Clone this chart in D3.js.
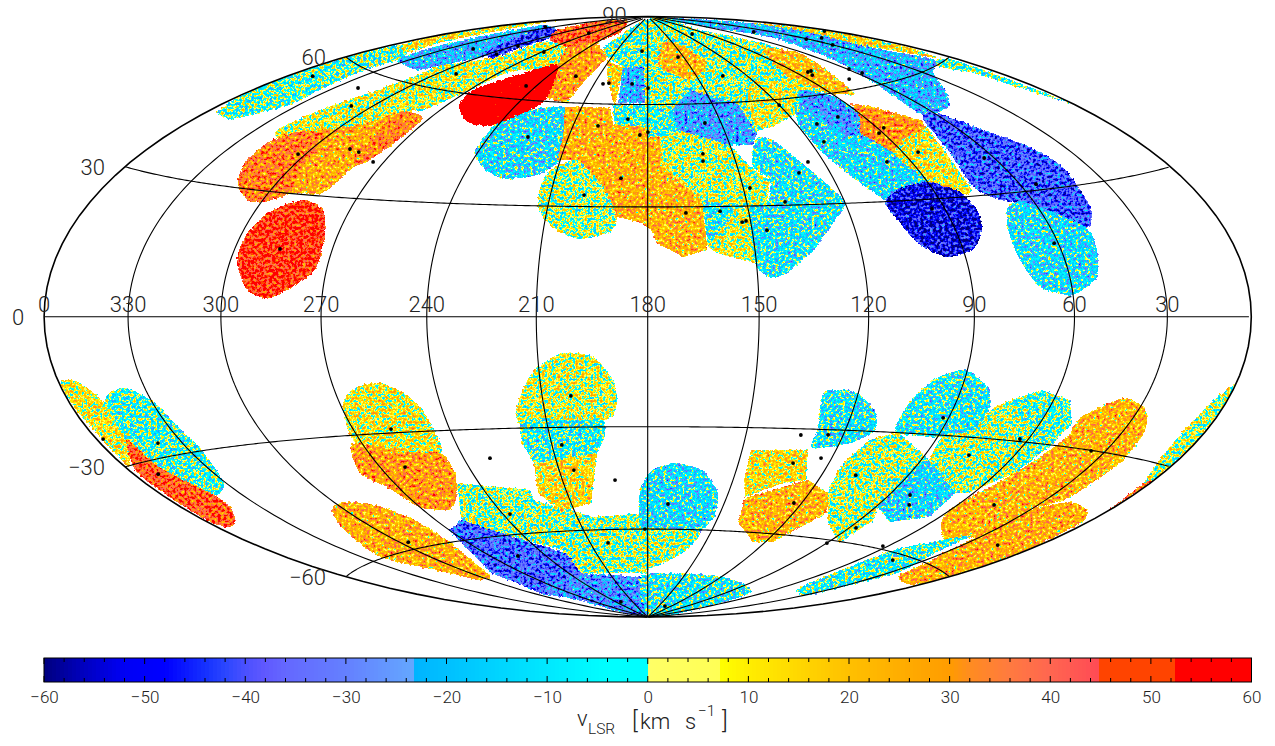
<!DOCTYPE html><html><head><meta charset="utf-8"><script src="https://cdn.jsdelivr.net/npm/d3@7"></script>
<style>html,body{margin:0;background:#fff}svg{display:block}text{font-family:Roboto,"Liberation Sans",sans-serif;font-weight:300;fill:#222}</style></head><body>
<svg id="c" width="1275" height="746"></svg>
<script>
// Galactic longitude labels and latitude labels
const lonLabels=[0,330,300,270,240,210,180,150,120,90,60,30];
const latLines=[-60,-30,0,30,60];
const latLabels=[90,60,30,0,-30,-60];
const meridians=[30,60,90,120,150,180,210,240,270,300,330];
const cbarTicks=[-60,-50,-40,-30,-20,-10,0,10,20,30,40,50,60];
const cbarMinor=d3.range(-60,61,2);
// colour bar stops: value -> colour
const cmapValues=[-60,-56,-52,-48,-44,-42,-40,-38,-36,-30,-23.1,-23.05,-16,-8,-4,0,0.01,7.3,7.31,10,20,30,32,36,40,44.9,45,52.2,52.21,60];
const cmapColours=["#00007f","#0000c0","#0000f5","#0000ff","#1530ff","#2a46ff","#4a50ff","#6058ff","#6468ff","#6480ff","#64a8ff","#00b4ff","#00d0ff","#00f0ff","#00ffff","#00ffff","#ffff66","#ffff55","#ffff00","#ffee00","#ffc000","#ff9c00","#ff8c20","#ff7a40","#ff6650","#ff4a55","#ff4400","#ff4400","#ff0000","#ff0000"];
// mean velocity of each mapped region, in painting order
const regionVelocity=[-3,12,-21,-42,40,6,25,35,33,48,-3,16,-22,-6,27,-12,23,2,80,12,-21,1,21,20,8,-25,-4,4,22,-8,7,-10,-13,-26,30,10,-38,-50,-12,-3,
 10,-4,42,25,10,29,24,1,-36,-28,6,-6,13,-12,2,-8,13,22,-10,3,-14,-8,3,-3,22,24,-6,3,40];
// regions whose edges are straight tile borders
const tileRegions=[10,11,12,13,14,16,24,25,26,27,28,29,30,33,34,35,47,48,49,51,52,56,57,59,60,62,63];
// outline of each region as [l,b] pairs
const regionOutline=[
[356.0,43.7,359.9,48.0,359.9,52.3,359.9,56.1,359.9,60.3,357.9,65.4,341.1,65.3,335.2,63.6,335.9,58.8,333.8,53.6,333.3,49.2,342.7,44.5,345.6,43.2],
[356.7,65.6,358.7,70.1,358.5,76.8,359.9,81.4,352.1,79.9,346.0,75.8,344.6,69.5,341.3,65.7],
[335.2,63.6,339.0,66.9,339.8,71.4,340.3,75.6,343.8,79.8,314.7,80.3,299.1,77.8,294.5,73.0,300.1,69.3,307.6,65.7,313.6,63.2],
[304.3,71.1,315.5,75.0,335.8,79.6,314.7,80.3,293.8,78.2,291.9,74.1,291.3,70.2],
[314.7,80.3,326.8,84.5,296.8,87.7,229.7,83.4,240.4,79.7,259.5,76.9,288.5,77.8],
[321.9,43.8,318.1,49.8,313.1,54.4,307.9,61.1,307.6,65.7,291.3,70.2,288.9,76.9,257.7,76.6,244.3,70.5,264.8,67.5,270.8,60.0,277.2,54.2,285.9,52.5,292.5,47.8,304.4,44.9,315.5,41.8],
[313.5,31.0,318.3,36.3,318.8,40.7,314.4,43.8,305.9,45.6,293.6,48.3,285.3,52.9,273.3,52.4,272.2,48.7,276.3,42.7,279.1,37.0,282.0,30.8,291.8,30.2,299.5,27.4,305.2,27.5],
[313.5,31.0,318.3,36.3,318.8,40.7,314.4,43.8,303.6,45.6,298.3,40.9,296.2,35.8,292.8,30.1,299.5,27.4,305.2,27.5],
[285.3,52.9,273.3,52.4,271.9,47.3,275.4,40.0,279.0,38.4,282.7,45.0],
[286.9,28.7,278.4,26.6,273.6,19.9,273.8,10.9,285.3,4.5,292.6,6.4,297.7,12.7,298.6,18.2,295.7,24.9],
[226.7,78.3,218.7,88.6,160.5,88.7,178.4,72.1,197.4,72.0,214.0,75.1],
[212.1,74.1,197.1,71.6,194.9,59.1,203.9,67.6],
[197.4,72.0,178.4,72.1,178.9,60.5,194.0,60.4],
[196.5,59.7,178.9,59.9,179.1,53.1,187.9,50.1,193.2,53.6],
[243.5,71.2,259.5,76.9,240.4,79.7,213.2,75.1,216.5,66.3,217.8,59.9,228.9,61.0],
[241.6,45.7,241.2,52.8,232.0,57.2,217.5,58.6,213.0,52.7,210.1,43.0,216.1,38.6,226.6,37.2,235.0,40.0,240.8,44.0],
[217.5,58.6,197.2,59.1,194.0,53.6,179.1,53.1,179.3,23.6,181.4,25.5,189.0,27.2,194.1,35.5,204.3,43.1,211.1,43.0,212.1,49.7],
[213.7,32.4,213.0,39.2,204.3,43.1,194.1,35.5,189.0,27.2,190.8,23.0,199.2,21.0,206.1,23.4,211.9,28.0],
[265.7,57.3,268.4,61.2,260.2,66.1,243.5,71.2,228.9,61.0,232.0,57.2,242.9,51.8,253.5,52.4,261.9,55.4],
[7.6,79.9,1.1,73.1,2.0,64.4,6.4,60.9,11.2,63.8,20.9,70.5,23.5,77.5],
[179.9,89.8,9.1,81.1,12.9,74.4,17.4,67.1,9.0,60.7,25.2,59.3,40.1,54.7,50.5,51.8,65.6,51.1,61.6,60.9,53.9,68.9,47.0,76.3,60.0,83.3],
[177.4,88.7,83.1,83.1,65.5,75.1,75.0,64.7,80.5,58.7,103.5,61.4,136.0,51.4,140.8,53.1,150,52,165,53,179.9,52],
[160.8,80.6,143.7,79.2,136.1,72.7,155.2,67.6,171.3,72.1],
[76.3,74.8,62.2,71.5,71.1,66.1,79.9,59.2,90.3,60.1,97.9,64.3,94.8,69.2],
[121.2,66.4,97.9,64.3,90.3,60.1,102.2,62.0,115.6,55.6,130.1,52.1,137.1,51.5,135.0,58.4],
[169.2,58.3,157.7,64.4,138.3,59.7,137.8,50.6,141.6,47.2,150.0,47.4,168.5,52.2],
[179.9,59.9,169.2,58.3,168.5,52.2,174.2,50.1,179.9,50.1],
[175.3,50.1,168.5,52.2,150.0,47.4,145.8,40.9,140.7,37.1,144.0,30.2,150.2,29.7,163.5,31.9,174.9,41.3],
[179.9,50.1,175.3,50.1,174.9,41.3,163.5,31.9,163.2,18.1,170.2,16.2,177.4,20.0,179.9,25.5],
[163.5,31.9,150.2,29.7,153.3,29.5,160.4,20.8,163.1,18.9],
[153.3,29.5,148.7,29.7,150.4,14.4,160.7,17.2,163.1,18.9],
[138.5,49.1,133.3,48.4,126.7,40.3,119.9,30.4,125.9,24.8,133.6,17.7,141.8,11.7,146.6,10.6,150.4,14.4,149.3,29.7,144.0,30.2,140.7,37.1,144.8,40.9,141.9,46.6],
[102.2,62.0,91.6,59.6,89.2,54.7,89.4,50.9,91.3,43.3,89.8,34.4,104.2,31.1,107.2,30.4,114.5,38.1,118.6,44.8,119.5,51.6,115.2,56.5],
[102.2,62.0,91.6,59.6,90.8,54.0,98.6,48.6,105.0,47.9,107.8,53.0,110.4,57.2],
[88.0,56.8,80.8,55.0,69.6,50.0,70.7,48.1,86.5,45.7,93.7,42.6,96.0,45.6,98.6,48.6,91.6,52.8],
[70.7,48.1,77.1,31.5,80.2,30.4,90.2,34.4,93.7,42.6,86.5,45.7],
[67.1,50.7,58.3,50.6,51.2,45.3,42.5,39.8,39.3,34.3,41.8,26.5,43.4,23.6,48.2,20.4,59.2,26.1,70.6,28.5,76.3,32.2,73.6,41.1],
[107.5,29.9,100.3,33.3,89.2,34.4,81.8,31.3,80.1,26.5,81.9,21.5,87.1,16.7,95.5,15.1,102.3,18.4,106.4,25.1],
[69.9,26.7,64.6,27.7,59.2,26.1,48.2,20.4,48.5,15.2,51.4,9.1,60.0,5.1,69.8,7.1,73.9,13.8,73.8,21.2],
[9.0,60.7,2.5,60.1,2.7,55.2,0.1,45.2,7.3,51.3,10.3,56.3,16.6,59.5],
[359.4,-12.6,352.7,-12.9,346.9,-17.6,348.9,-25.3,358.5,-30.2,357.8,-24.5,359.2,-18.1],
[346.9,-17.6,342.5,-15.6,336.2,-15.1,329.2,-18.7,326.9,-24.3,325.4,-29.8,330.8,-37.3,340.5,-39.2,347.3,-31.6,348.9,-25.3],
[348.9,-25.3,347.3,-31.6,340.5,-39.2,341.4,-42.1,349.1,-44.9,356.5,-45.1,359.0,-42.8,358.4,-35.5,357.6,-31.0],
[359.9,-49.4,359.9,-54.9,359.9,-59.1,359.9,-55.2,359.9,-50.4],
[270.7,-25.3,268.3,-21.0,263.2,-17.8,255.8,-17.0,249.7,-19.8,245.8,-24.4,244.9,-32.5,246.5,-36.0,258.3,-35.2,271.9,-32.0],
[273.2,-31.9,258.3,-35.2,246.5,-36.0,246.0,-41.6,252.0,-48.1,259.9,-51.5,270.3,-49.8,273.3,-44.7,278.6,-39.6],
[305.0,-47.5,296.2,-46.1,285.7,-48.0,278.3,-53.0,277.6,-59.3,284.9,-66.2,294.6,-70.4,305.9,-70.3,313.2,-65.5,322.4,-59.6,313.2,-52.3],
[247.8,-44.3,223.2,-47.4,223.7,-50.4,203.3,-56.0,180.3,-55.1,180.6,-74.2,231.1,-73.3,227.7,-65.7,245.1,-60.7,259.6,-54.5],
[270.1,-56.8,259.6,-54.5,245.1,-60.7,227.1,-66.7,231.1,-73.3,269.7,-81.8,296.0,-77.8,288.7,-69.5],
[287.4,-76.3,231.1,-73.3,180.6,-75.6,180,-89.5,300,-88],
[210.2,-13.5,203.3,-9.7,194.9,-10.8,189.6,-17.1,188.8,-23.4,192.6,-28.1,218.4,-27.8,214.0,-17.7],
[218.4,-27.8,192.6,-28.1,193.1,-32.8,196.2,-37.3,217.6,-39.8,219.2,-34.1],
[217.6,-39.8,196.2,-37.3,202.2,-51.8,215.3,-54.2,220.8,-48.4],
[182.8,-48.2,178.5,-42.3,171.0,-40.3,161.6,-42.2,153.8,-48.8,151.8,-55.9,158.5,-62.3,178.0,-60.9,183.5,-59.4],
[183.6,-60.3,155.6,-60.7,159.4,-67.4,179.8,-73.2,186.1,-74.2],
[186.6,-75.6,161.7,-74.1,116.3,-74.2,68.8,-77.3,40,-87,180,-89.5],
[147.2,-36.2,129.0,-35.7,124.4,-44.1,131.5,-45.2,143.1,-49.7,146.1,-44.8],
[142.9,-50.0,134.1,-47.3,123.7,-44.0,112.8,-47.3,106.5,-52.8,111.9,-58.3,116.2,-62.3,126.1,-62.8,140.1,-57.4],
[130.0,-19.9,121.0,-19.7,113.8,-24.3,110.6,-29.6,116.4,-33.3,128.0,-35.1,128.7,-29.4],
[114.0,-46.4,115.3,-38.8,110.9,-32.3,103.4,-29.8,87.4,-36.5,90.8,-38.6,89.1,-49.8,84.2,-53.3,84.4,-60.4,101.5,-55.5],
[89.1,-49.8,90.8,-38.6,87.4,-36.5,66.4,-43.9,64.2,-50.5,76.6,-53.2],
[104.0,-29.9,104.5,-23.3,99.3,-16.1,91.0,-13.3,82.2,-17.4,78.9,-22.3,79.2,-28.1,88.9,-30.5],
[87.4,-36.5,88.9,-30.5,79.2,-28.1,78.1,-22.5,73.4,-20.3,65.2,-17.5,54.7,-19.4,49.5,-24.6,50.3,-29.5,53.7,-37.3,62.0,-43.5,66.4,-43.9],
[73.4,-20.3,65.2,-17.5,54.7,-19.4,49.5,-24.6,50.3,-29.5,53.7,-37.3,60.7,-27.7],
[55.7,-51.3,60.6,-47.2,53.7,-37.3,47.7,-28.1,47.9,-23.0,37.3,-18.0,27.3,-20.1,22.1,-24.8,20.3,-31.5,22.6,-40.1,29.6,-44.4,31.6,-52.4,41.5,-54.7],
[20.2,-64.1,26.9,-60.1,31.6,-52.4,29.6,-44.4,19.8,-41.0,8.6,-41.4,2.0,-43.7,0.1,-51.5,0.1,-59.7,2.2,-63.8],
[46.5,-73.6,54.8,-69.2,53.9,-59.5,34.8,-52.2,34.1,-56.8,25.8,-63.5,28.0,-67.9,28.8,-73.5],
[2.4,-33.9,8.1,-27.2,6.5,-18.0,0.1,-12.7,0.1,-17.4,0.1,-24.9,0.1,-32.8],
[0.1,-40.7,2.4,-33.9,0.1,-33.5,0.1,-39.0]
];
// observed positions (black points), [l,b] pairs
const pointL=[350.1,320.3,308.7,302.7,286.3,282.0,273.7,285.9,290.7,317.1,297.2,268.6,272.9,223.8,245.3,225.3,200.0,199.6,188.6,205.1,202.0,188.8,185.5,179.8,188.3,183.0,179.9,334.6,295.3,108.4,41.5,3.2,30.8,20.7,30.1,154.6,134.1,83.1,80.4,84.0,59.0,57.4,69.8,120.0,156.6,100.5,111.8,115.0,87.5,91.5,84.5,98.4,63.5,54.5,61.3,94.0,125.4,130.3,138.3,160.6,161.1,147.9,168.7,158.5,152.5,151.3,145.7,357.5,338.7,350.8,258.1,261.5,231.4,201.8,206.9,205.0,191.5,237.1,296.2,255.5,200.8,181.3,231.8,172.0,134.7,133.1,124.7,123.5,131.9,123.0,108.2,87.1,82.3,78.2,91.7,75.4,62.8,35.1,46.4,16.1,89.9,62.3,44.1];
const pointB=[55.2,56.2,52.2,39.4,42.2,41.7,39.6,16.5,64.5,70.8,74.4,74.4,81.9,68.3,64.1,49.3,53.3,33.2,38.1,66.3,66.6,66.5,77.5,65.2,55.5,50.7,51.6,79.8,71.3,82.4,78.8,72.9,73.6,72.5,70.7,75.2,68.3,66.5,66.6,65.5,65.1,63.5,62.8,58.3,54.1,53.5,52.1,47.0,49.3,48.1,42.2,40.4,38.9,31.4,17.4,27.5,41.7,38.8,30.9,45.0,42.9,35.0,28.3,28.7,25.6,25.9,23.3,-24.3,-27.0,-32.8,-29.0,-39.1,-38.0,-21.4,-34.9,-42.1,-45.2,-54.0,-58.1,-66.2,-64.2,-60.0,-83.9,-52.3,-85.6,-31.7,-31.4,-37.8,-39.5,-50.7,-41.9,-55.9,-45.8,-48.3,-25.6,-34.4,-29.4,-30.1,-45.1,-52.4,-60.9,-59.2,-61.6];

// Hammer-Aitoff projection, l grows to the left, centred on l=180
const aspect=300.2/301.8;
function hammerRaw(lam,phi){const c=Math.cos(phi),d=Math.sqrt(1+c*Math.cos(lam/2))||1e-9;
  return [2*Math.SQRT2*c*Math.sin(lam/2)/d, aspect*Math.SQRT2*Math.sin(phi)/d];}
const projection=d3.geoProjection(hammerRaw).scale(213.4).translate([647.7,316.8]).precision(0.2);
const path=d3.geoPath(projection);
const sky=(l,b)=>projection([180-l,b]);
const svg=d3.select("#c");

const colour=d3.scaleLinear().domain(cmapValues).range(cmapColours).clamp(true);
// velocity -> grey level; the filter below turns grey back into the colour bar
const grey=d3.scaleLinear().domain([-100,100]).range([0,255]).clamp(true);
const tableV=d3.range(-100,100,1).map(v=>d3.rgb(colour(v+0.5)));
const table=ch=>tableV.map(c=>(c[ch]/255).toFixed(3)).join(" ");

const defs=svg.append("defs");
defs.append("clipPath").attr("id","globe").append("path").attr("d",path({type:"Sphere"}));
const f=defs.append("filter").attr("id","speckle").attr("filterUnits","userSpaceOnUse")
 .attr("x",0).attr("y",0).attr("width",1275).attr("height",746).attr("color-interpolation-filters","sRGB");
f.append("feTurbulence").attr("type","fractalNoise").attr("baseFrequency",0.33).attr("numOctaves",2).attr("seed",11).attr("result","t");
f.append("feDisplacementMap").attr("in","SourceGraphic").attr("in2","t").attr("scale",3.5).attr("xChannelSelector","R").attr("yChannelSelector","G").attr("result","d");
f.append("feColorMatrix").attr("in","d").attr("type","matrix").attr("values","1 0 0 0 0 0 1 0 0 0 0 0 1 0 0 0 0 0 0 1").attr("result","a");
f.append("feColorMatrix").attr("in","t").attr("type","matrix").attr("values","1 0 0 0 0 1 0 0 0 0 1 0 0 0 0 0 0 0 0 1").attr("result","n0");
f.append("feColorMatrix").attr("in","n0").attr("type","matrix").attr("values","1 0 0 0 0 1 0 0 0 0 1 0 0 0 0 0 0 0 0 0 0 0 0 0 1").attr("result","n");
f.append("feComposite").attr("in","a").attr("in2","n").attr("operator","arithmetic").attr("k1",0).attr("k2",1).attr("k3",0.46).attr("k4",-0.23).attr("result","v");
const tr=f.append("feComponentTransfer").attr("in","v").attr("result","col");
tr.append("feFuncR").attr("type","discrete").attr("tableValues",table("r"));
tr.append("feFuncG").attr("type","discrete").attr("tableValues",table("g"));
tr.append("feFuncB").attr("type","discrete").attr("tableValues",table("b"));
f.append("feComposite").attr("in","col").attr("in2","d").attr("operator","in");

const smoothLine=d3.line().curve(d3.curveCardinalClosed.tension(0.35));
const tileLine=d3.line().curve(d3.curveLinearClosed);
const toPts=a=>d3.range(0,a.length,2).map(i=>sky(a[i],a[i+1]));
svg.append("g").attr("clip-path","url(#globe)").append("g").attr("filter","url(#speckle)")
 .selectAll("path").data(regionOutline).join("path")
 .attr("shape-rendering","crispEdges")
 .attr("d",(d,i)=>(tileRegions.includes(i)?tileLine:smoothLine)(toPts(d)))
 .attr("fill",(d,i)=>{const g=Math.round(grey(regionVelocity[i]));return `rgb(${g},${g},${g})`;});

// graticule
const grid=svg.append("g").attr("fill","none").attr("stroke","#000").attr("stroke-width",1.1);
grid.selectAll(".m").data(meridians).join("path").attr("class","m")
 .attr("d",l=>path({type:"LineString",coordinates:d3.range(-89.9,90,1).map(b=>[180-l,b])}));
grid.selectAll(".p").data(latLines).join("path").attr("class","p")
 .attr("d",b=>path({type:"LineString",coordinates:d3.range(-179.9,180,1).map(x=>[x,b])}));
grid.append("path").attr("d",path({type:"Sphere"})).attr("stroke-width",1.6);

svg.append("g").selectAll("circle").data(pointL).join("circle")
 .attr("cx",(l,i)=>sky(l,pointB[i])[0]).attr("cy",(l,i)=>sky(l,pointB[i])[1]).attr("r",1.9).attr("fill","#000");

// labels
svg.append("g").selectAll("text").data(lonLabels).join("text").attr("font-size",22).attr("text-anchor","middle")
 .attr("x",l=>sky(l===0?359.99:l,0)[0]).attr("y",312).text(d=>d);
svg.append("g").selectAll("text").data(latLabels).join("text").attr("font-size",22).attr("text-anchor","end")
 .attr("x",b=>projection([-179.99,b===90?89.9:b])[0]-20).attr("y",b=>projection([-179.99,b===90?89.9:b])[1]+(b===90?6:8))
 .text(d=>String(d).replace("-","\u2212"));

// colour bar
const bx=d3.scaleLinear().domain([-60,60]).range([44,1251.5]);
const cb=svg.append("g");
cb.append("g").selectAll("rect").data(d3.range(-60,60,0.4)).join("rect")
 .attr("x",d=>bx(d)).attr("width",d=>bx(d+0.4)-bx(d)+0.5).attr("y",658).attr("height",24)
 .attr("shape-rendering","crispEdges").attr("fill",d=>colour(d+0.2));
cb.append("rect").attr("x",bx(-60)).attr("y",658).attr("width",bx(60)-bx(-60)).attr("height",24).attr("fill","none").attr("stroke","#000").attr("stroke-width",1);
const tk=cb.append("g").attr("stroke","#000").attr("stroke-width",1);
tk.selectAll(".a").data(cbarMinor).join("line").attr("class","a").attr("x1",bx).attr("x2",bx).attr("y1",658).attr("y2",d=>658+(d%10===0?6:4));
tk.selectAll(".b").data(cbarMinor).join("line").attr("class","b").attr("x1",bx).attr("x2",bx).attr("y1",682).attr("y2",d=>682-(d%10===0?6:4));
const ax=cb.append("g").attr("transform","translate(0,682)").call(d3.axisBottom(bx).tickValues(cbarTicks).tickSize(0).tickPadding(9).tickFormat(d=>String(d).replace("-","\u2212")));
ax.select(".domain").remove();
ax.attr("font-family",null).attr("font-size",17);
ax.selectAll("text").attr("dy","0.71em");
const lab=svg.append("g").attr("font-size",22);
[["v",577,726,22],["LSR",588,734,15.5],["[",632,729,24],["km",640,729,22],["s",685,729,22],["\u22121",698,716,15.5],["]",722,729,24]]
 .forEach(t=>lab.append("text").attr("x",t[1]).attr("y",t[2]).attr("font-size",t[3]).text(t[0]));
</script></body></html>
